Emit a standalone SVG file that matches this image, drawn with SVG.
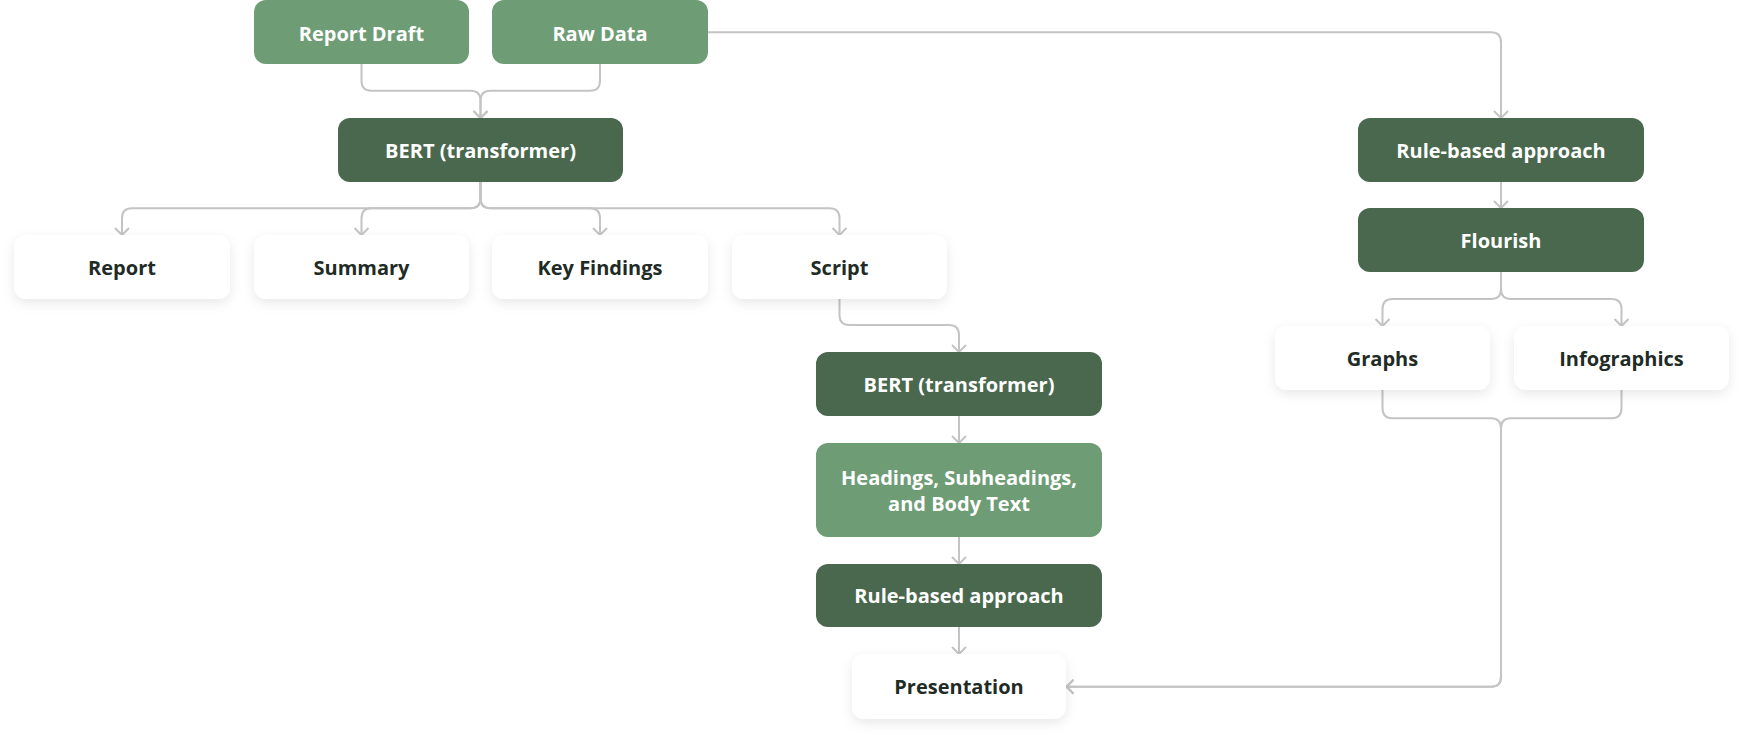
<svg xmlns="http://www.w3.org/2000/svg" width="1744" height="737" viewBox="0 0 1744 737">
<defs>
<style>
.lg{fill:#6d9c75}
.dg{fill:#49684d}
.wh{fill:#ffffff;filter:url(#sh)}
text{font-family:"Open Sans","Noto Sans","Liberation Sans",sans-serif;font-weight:700;font-size:20px;text-anchor:middle}
.tw{fill:#ffffff}
.td{fill:#1f2b25}
.c{fill:none;stroke:#c4c4c4;stroke-width:2}
</style>
<filter id="sh" x="-20%" y="-30%" width="140%" height="170%">
<feDropShadow dx="0" dy="4" stdDeviation="6" flood-color="#000000" flood-opacity="0.09"/>
</filter>
<marker id="arr" markerWidth="20" markerHeight="20" refX="10" refY="10" orient="auto" markerUnits="userSpaceOnUse">
<path d="M3,3 L10,10 L3,17" fill="none" stroke="#c4c4c4" stroke-width="2"/>
</marker>
</defs>
<rect width="1744" height="737" fill="#ffffff"/>
<g id="connectors">
<path class="c" marker-end="url(#arr)" d="M361.5 64 V80.7 Q361.5 90.7 371.5 90.7 H470.5 Q480.5 90.7 480.5 100.7 V118"/>
<path class="c" marker-end="url(#arr)" d="M600 64 V80.7 Q600 90.7 590 90.7 H490.5 Q480.5 90.7 480.5 100.7 V118"/>
<path class="c" marker-end="url(#arr)" d="M480.5 182 V198.3 Q480.5 208.3 470.5 208.3 H132 Q122 208.3 122 218.3 V235"/>
<path class="c" marker-end="url(#arr)" d="M480.5 182 V198.3 Q480.5 208.3 470.5 208.3 H371.5 Q361.5 208.3 361.5 218.3 V235"/>
<path class="c" marker-end="url(#arr)" d="M480.5 182 V198.3 Q480.5 208.3 490.5 208.3 H590 Q600 208.3 600 218.3 V235"/>
<path class="c" marker-end="url(#arr)" d="M480.5 182 V198.3 Q480.5 208.3 490.5 208.3 H829.5 Q839.5 208.3 839.5 218.3 V235"/>
<path class="c" marker-end="url(#arr)" d="M708 32.3 H1491 Q1501 32.3 1501 42.3 V118"/>
<path class="c" marker-end="url(#arr)" d="M1501 182 V208"/>
<path class="c" marker-end="url(#arr)" d="M1501 272 V289 Q1501 299 1491 299 H1392.5 Q1382.5 299 1382.5 309 V326"/>
<path class="c" marker-end="url(#arr)" d="M1501 272 V289 Q1501 299 1511 299 H1611.5 Q1621.5 299 1621.5 309 V326"/>
<path class="c" marker-end="url(#arr)" d="M839.5 299 V315 Q839.5 325 849.5 325 H949 Q959 325 959 335 V352"/>
<path class="c" marker-end="url(#arr)" d="M959 416 V443"/>
<path class="c" marker-end="url(#arr)" d="M959 537 V564"/>
<path class="c" marker-end="url(#arr)" d="M959 627 V654"/>
<path class="c" marker-end="url(#arr)" d="M1382.5 390 V408.3 Q1382.5 418.3 1392.5 418.3 H1491 Q1501 418.3 1501 428.3 V676.7 Q1501 686.7 1491 686.7 H1066.5"/>
<path class="c" marker-end="url(#arr)" d="M1621.5 390 V408.3 Q1621.5 418.3 1611.5 418.3 H1511 Q1501 418.3 1501 428.3 V676.7 Q1501 686.7 1491 686.7 H1066.5"/>
</g>
<g id="n-report-draft"><rect class="lg" x="254" y="0" width="215" height="64" rx="12"/><text class="tw" x="361.5" y="41">Report Draft</text></g>
<g id="n-raw-data"><rect class="lg" x="492" y="0" width="216" height="64" rx="12"/><text class="tw" x="600" y="41">Raw Data</text></g>
<g id="n-bert1"><rect class="dg" x="338" y="118" width="285" height="64" rx="12"/><text class="tw" x="480.5" y="158">BERT (transformer)</text></g>
<g id="n-report"><rect class="wh" x="14" y="235" width="216" height="64" rx="12"/><text class="td" x="122" y="275">Report</text></g>
<g id="n-summary"><rect class="wh" x="254" y="235" width="215" height="64" rx="12"/><text class="td" x="361.5" y="275">Summary</text></g>
<g id="n-key-findings"><rect class="wh" x="492" y="235" width="216" height="64" rx="12"/><text class="td" x="600" y="275">Key Findings</text></g>
<g id="n-script"><rect class="wh" x="732" y="235" width="215" height="64" rx="12"/><text class="td" x="839.5" y="275">Script</text></g>
<g id="n-rule1"><rect class="dg" x="1358" y="118" width="286" height="64" rx="12"/><text class="tw" x="1501" y="158">Rule-based approach</text></g>
<g id="n-flourish"><rect class="dg" x="1358" y="208" width="286" height="64" rx="12"/><text class="tw" x="1501" y="248">Flourish</text></g>
<g id="n-graphs"><rect class="wh" x="1275" y="326" width="215" height="64" rx="12"/><text class="td" x="1382.5" y="366">Graphs</text></g>
<g id="n-infographics"><rect class="wh" x="1514" y="326" width="215" height="64" rx="12"/><text class="td" x="1621.5" y="366">Infographics</text></g>
<g id="n-bert2"><rect class="dg" x="816" y="352" width="286" height="64" rx="12"/><text class="tw" x="959" y="392">BERT (transformer)</text></g>
<g id="n-headings"><rect class="lg" x="816" y="443" width="286" height="94" rx="12"/><text class="tw" x="959" y="485">Headings, Subheadings,</text><text class="tw" x="959" y="511">and Body Text</text></g>
<g id="n-rule2"><rect class="dg" x="816" y="564" width="286" height="63" rx="12"/><text class="tw" x="959" y="603">Rule-based approach</text></g>
<g id="n-presentation"><rect class="wh" x="852" y="654" width="214" height="65" rx="12"/><text class="td" x="959" y="694">Presentation</text></g>
</svg>
